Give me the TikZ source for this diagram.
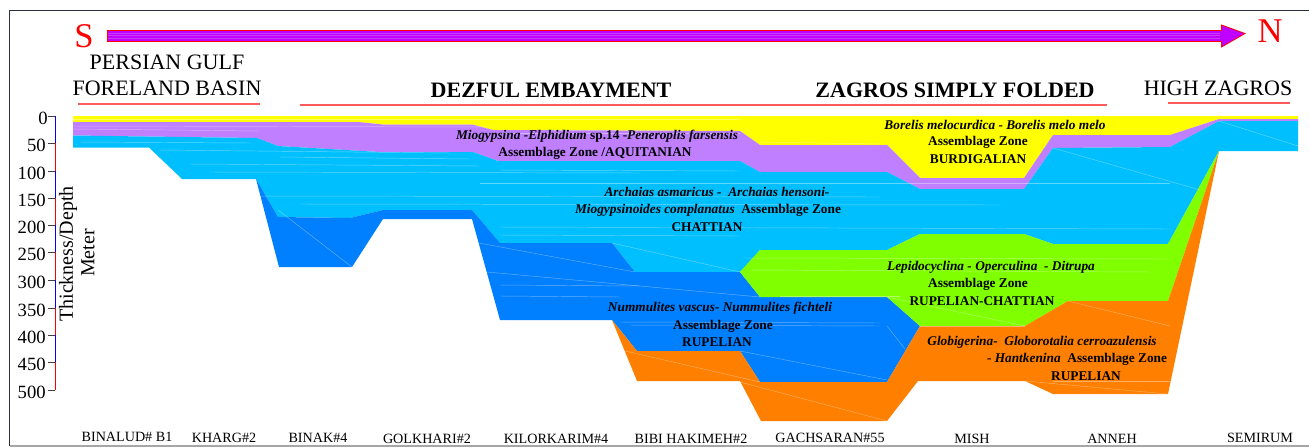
\documentclass[tikz,border=0pt]{standalone}
\usepackage{fontspec}
\setmainfont{Liberation Serif}
\definecolor{yellowbed}{HTML}{FFFF00}
\definecolor{aquitbed}{HTML}{BF7FFF}
\definecolor{chattbed}{HTML}{00BFFF}
\definecolor{rupelbed}{HTML}{007FFF}
\definecolor{greenbed}{HTML}{7FFF00}
\definecolor{orangebed}{HTML}{FF7F00}
\definecolor{arrowfill}{HTML}{BF00FF}
\definecolor{framecol}{HTML}{2B2F3A}
\definecolor{rulecol}{HTML}{FF5A5A}
\tikzset{
  x=0.75pt,y=-0.75pt,
  bed/.style={fill=#1,draw=none},
  seam/.style={draw=white,opacity=.38,line width=.35pt},
  rulered/.style={draw=rulecol,line width=.9pt},
  region/.style={inner sep=0pt,font=\fontsize{16.5}{18}\selectfont},
  regionb/.style={inner sep=0pt,font=\fontsize{16.5}{18}\selectfont\bfseries},
  well/.style={inner sep=0pt,font=\fontsize{10.6}{12}\selectfont},
  zone/.style={inner sep=0pt,font=\fontsize{10}{12}\selectfont\bfseries},
  depth/.style={inner sep=0pt,anchor=east,font=\fontsize{14}{16}\selectfont},
  axislabel/.style={inner sep=0pt,rotate=90,font=\fontsize{15}{17}\selectfont},
  compass/.style={inner sep=0pt,text=red,font=\fontsize{26}{28}\selectfont},
}
\begin{document}
\begin{tikzpicture}
\useasboundingbox (0,0) rectangle (1309,447);

% frame
\draw[framecol,line width=.8pt] (9.5,446) -- (9.5,10.5) -- (1309,10.5);
\draw[gray!70,line width=.8pt] (9.5,446) -- (1309,446);

% direction arrow
\fill[arrowfill] (107.5,30.5) -- (1221.5,30.5) -- (1221.5,25) -- (1245,33.5) -- (1221.5,47) -- (1221.5,41.5) -- (107.5,41.5) -- cycle;
\draw[red,line width=.6pt,line join=miter] (107.5,30.5) -- (1221.5,30.5) -- (1221.5,25) -- (1245,33.5) -- (1221.5,47) -- (1221.5,41.5) -- (107.5,41.5) -- cycle;
\foreach \yy in {33.5,35.5,38.5}
  \draw[white,opacity=.22,line width=.4pt] (108,\yy) -- (1220,\yy);
\node[compass] (south) at (84,36) {S};
\node[compass] (north) at (1270,31) {N};

% region titles
\node[region] (gulf) at (167,62) {PERSIAN GULF};
\node[region] (foreland) at (167,88) {FORELAND BASIN};
\node[regionb] (dezful) at (551,90) {DEZFUL EMBAYMENT};
\node[regionb] (zagros) at (955,90) {ZAGROS SIMPLY FOLDED};
\node[region] (high) at (1218,88) {HIGH ZAGROS};
\draw[rulered] (78,104) -- (260,104);
\draw[rulered] (300,105) -- (1107,105);
\draw[rulered] (1168,103) -- (1290,103);

% strata, youngest on top
\fill[bed=yellowbed] (73,116) -- (1298,116) -- (1298,119) -- (1219,119) -- (1170,135) -- (1053,135) -- (1024,178) -- (920,178) -- (887,145) -- (760,145) -- (740,131) -- (493,130) -- (472,124.5) -- (383,124.5) -- (358,122) -- (73,122) -- cycle;
\fill[bed=aquitbed] (73,122) -- (358,122) -- (383,124.5) -- (472,124.5) -- (493,130) -- (740,131) -- (760,145) -- (887,145) -- (920,178) -- (1024,178) -- (1053,135) -- (1170,135) -- (1219,119) -- (1298,119) -- (1298,121) -- (1219,121) -- (1170,147) -- (1053,148) -- (1024,189) -- (920,189) -- (887,172) -- (760,172) -- (740,161) -- (498,161) -- (473,152) -- (380,152) -- (278,146) -- (257,138) -- (73,135.5) -- cycle;
\fill[bed=chattbed] (73,135.5) -- (257,138) -- (278,146) -- (380,152) -- (473,152) -- (498,161) -- (740,161) -- (760,172) -- (887,172) -- (920,189) -- (1024,189) -- (1053,148) -- (1170,147) -- (1219,121) -- (1298,121) -- (1298,151) -- (1219,151) -- (1168,244) -- (1053,244) -- (1024,234) -- (920,234) -- (887,250) -- (760,250) -- (740,272) -- (635,272) -- (612,243) -- (500,243) -- (472,210) -- (383,210) -- (350,218) -- (278,217) -- (256,179) -- (182,179) -- (149,147.5) -- (73,147.5) -- cycle;
\fill[bed=rupelbed] (256,179) -- (278,217) -- (350,218) -- (383,210) -- (472,210) -- (500,243) -- (612,243) -- (635,272) -- (740,272) -- (760,297) -- (887,297) -- (920,326) -- (887,382) -- (760,382) -- (740,351) -- (637,351) -- (612,320) -- (500,320) -- (472,219) -- (383,219) -- (352,267) -- (279,267) -- cycle;
\fill[bed=greenbed] (740,272) -- (760,250) -- (887,250) -- (920,234) -- (1024,234) -- (1053,244) -- (1168,244) -- (1219,151) -- (1168,301) -- (1068,301) -- (1025,326) -- (920,326) -- (887,297) -- (760,297) -- cycle;
\fill[bed=orangebed] (612,320) -- (637,351) -- (740,351) -- (760,382) -- (887,382) -- (920,326) -- (1025,326) -- (1068,301) -- (1168,301) -- (1219,151) -- (1168,394) -- (1053,394) -- (1025,381) -- (918,381) -- (887,421) -- (761,421) -- (740,381) -- (637,381) -- cycle;

% faint seams between the correlated beds
\foreach \ya/\yb/\xa/\xb in {
  119/119/73/740, 126/127/73/500, 129/131/73/260, 133/133/500/740,
  142/143/80/250, 142/144/760/880, 150/153/160/450, 157/159/280/470,
  164/166/190/480, 172/173/210/640, 170/171/500/740, 183/183/480/1170,
  196/197/250/880, 204/205/300/1000, 227/229/500/1170, 235/236/500/740,
  258/259/745/1170, 270/272/750/1150, 285/286/500/640, 296/296/780/900,
  296/297/500/620, 322/323/620/880, 325/326/630/880}
  \draw[seam] (\xa,\ya) -- (\xb,\yb);
\draw[seam] (1053,148) -- (1200,190);
\draw[seam] (1219,121) -- (1298,146);
\draw[seam] (278,210) -- (352,267);
\draw[seam] (479,243) -- (635,272);
\draw[seam] (612,243) -- (740,272);
\draw[seam] (487,272) -- (760,297);
\draw[seam] (740,351) -- (887,380);
\draw[seam] (625,351) -- (760,382);
\draw[seam] (740,382) -- (887,421);
\draw[seam] (887,326) -- (905,349);
\draw[seam] (1068,301) -- (1170,326);
\draw[seam] (920,326) -- (1025,326);
\draw[seam] (1025,381) -- (1168,394);
\draw[seam] (1053,381) -- (1170,381);
\draw[seam] (887,297) -- (1025,326);

% zone captions
\node[zone] (aqa) at (597,136) {\textit{Miogypsina -Elphidium} sp.14 -\textit{Peneroplis farsensis}};
\node[zone] (aqb) at (595,153) {Assemblage Zone /AQUITANIAN};
\node[zone] (bua) at (995,125) {\textit{Borelis melocurdica - Borelis melo melo}};
\node[zone] (bub) at (978,142) {Assemblage Zone};
\node[zone] (buc) at (978,159) {BURDIGALIAN};
\node[zone] (cha) at (717,192) {\textit{Archaias asmaricus -\ \ Archaias hensoni-}};
\node[zone] (chb) at (708,210) {\textit{Miogypsinoides complanatus}\ \ Assemblage Zone};
\node[zone] (chc) at (707,227) {CHATTIAN};
\node[zone] (lea) at (991,267) {\textit{Lepidocyclina - Operculina\ \ - Ditrupa}};
\node[zone] (leb) at (978,284) {Assemblage Zone};
\node[zone] (lec) at (982,301) {RUPELIAN-CHATTIAN};
\node[zone] (nua) at (720,308) {\textit{Nummulites vascus- Nummulites fichteli}};
\node[zone] (nub) at (723,326) {Assemblage Zone};
\node[zone] (nuc) at (717,342) {RUPELIAN};
\node[zone] (gla) at (1042,342) {\textit{Globigerina-\ \ Globorotalia cerroazulensis}};
\node[zone] (glb) at (1077,359) {\textit{- Hantkenina}\ \ Assemblage Zone};
\node[zone] (glc) at (1086,376) {RUPELIAN};

% depth scale
\foreach \ya/\yb/\cc in {116/143/blue,143/171/red,171/198/blue,198/225/red,225/252/blue,252/280/red,280/308/blue,308/335/red,335/362/blue,362/390/red}
  \draw[\cc,line width=.6pt] (55,\ya) -- (55,\yb);
\foreach \yy/\lab/\xx in {116/0/48,143/50/46,171/100/46,198/150/46,225/200/46,252/250/46,280/300/46,308/350/46,335/400/46,362/450/46,390/500/46}{
  \draw[black!75,line width=.6pt] (48,\yy) -- (55,\yy);
  \node[depth] at (\xx,\yy+2) {\lab};
}
\node[axislabel] (thick) at (68,254) {Thickness/Depth};
\node[axislabel] (meter) at (88,253) {Meter};

% well names
\node[well] (w1) at (127,437) {BINALUD\# B1};
\node[well] (w2) at (224,438) {KHARG\#2};
\node[well] (w3) at (318,438) {BINAK\#4};
\node[well] (w4) at (427,439) {GOLKHARI\#2};
\node[well] (w5) at (556,439) {KILORKARIM\#4};
\node[well] (w6) at (691,439) {BIBI HAKIMEH\#2};
\node[well] (w7) at (830,438) {GACHSARAN\#55};
\node[well] (w8) at (972,439) {MISH};
\node[well] (w9) at (1112,439) {ANNEH};
\node[well] (w10) at (1260,438) {SEMIRUM};
\end{tikzpicture}
\end{document}
